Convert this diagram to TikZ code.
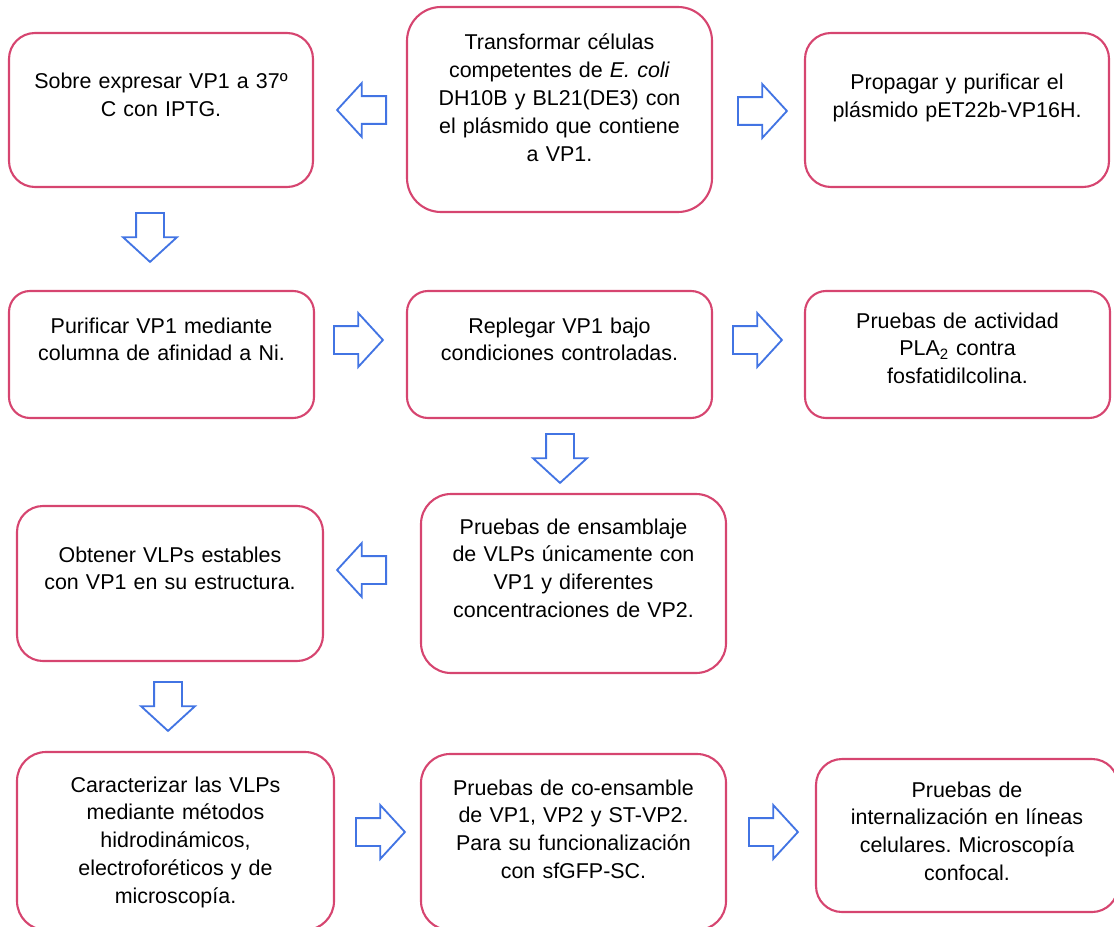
\documentclass[tikz,border=0pt]{standalone}
\usepackage{fontspec}
\setmainfont{Liberation Sans}
\frenchspacing
\usetikzlibrary{fit,shapes.arrows}

\definecolor{rosa}{RGB}{214,69,112}
\definecolor{azul}{RGB}{66,116,227}

\begin{document}
\begin{tikzpicture}[x=0.02cm,y=-0.02cm,
  caja/.style={draw=rosa, line width=1.2pt, inner sep=0pt},
  texto/.style={anchor=base, inner sep=0pt, text width=5.6cm, align=center,
    font=\fontsize{12.2}{15.9}\selectfont},
  flecha/.style={single arrow, draw=azul, line width=1.05pt, anchor=tail,
    inner sep=0.26cm, minimum height=0.98cm,
    single arrow head extend=0.26cm, single arrow tip angle=95}]
  \useasboundingbox (0,0) rectangle (1114,926);

  \node [caja, rounded corners=0.52cm, fit={(9,33) (313,187)}]    (sobre) {};
  \node [caja, rounded corners=0.68cm, fit={(407,7) (712,212)}]   (transformar) {};
  \node [caja, rounded corners=0.52cm, fit={(805,33) (1109,187)}] (propagar) {};
  \node [caja, rounded corners=0.42cm, fit={(9,291) (314,418)}]   (purificar) {};
  \node [caja, rounded corners=0.42cm, fit={(407,291) (712,418)}] (replegar) {};
  \node [caja, rounded corners=0.42cm, fit={(805,291) (1110,418)}] (actividad) {};
  \node [caja, rounded corners=0.6cm, fit={(421,494) (726,673)}]  (ensamblaje) {};
  \node [caja, rounded corners=0.52cm, fit={(17,506) (323,661)}]  (obtener) {};
  \node [caja, rounded corners=0.58cm, fit={(17,752) (334,930)}]  (caracterizar) {};
  \node [caja, rounded corners=0.58cm, fit={(421,754) (726,930)}] (coensamble) {};
  \node [caja, rounded corners=0.52cm, fit={(816,759) (1118,912)}] (internalizacion) {};

  \node [texto] (t-sobre) at (sobre.center |- 0,89)
    {Sobre expresar VP1 a 37º\\C con IPTG.};
  \node [texto] (t-transformar) at (transformar.center |- 0,50)
    {Transformar células\\competentes de \textit{E. coli}\\DH10B y BL21(DE3) con\\el plásmido que contiene\\a VP1.};
  \node [texto] (t-propagar) at (propagar.center |- 0,90)
    {Propagar y purificar el\\plásmido pET22b-VP16H.};
  \node [texto] (t-purificar) at (purificar.center |- 0,333)
    {Purificar VP1 mediante\\columna de afinidad a Ni.};
  \node [texto] (t-replegar) at (replegar.center |- 0,333)
    {Replegar VP1 bajo\\condiciones controladas.};
  \node [texto] (t-actividad) at (actividad.center |- 0,328)
    {Pruebas de actividad\\PLA\textsubscript{2} contra\\fosfatidilcolina.};
  \node [texto] (t-ensamblaje) at (ensamblaje.center |- 0,534)
    {Pruebas de ensamblaje\\de VLPs únicamente con\\VP1 y diferentes\\concentraciones de VP2.};
  \node [texto] (t-obtener) at (obtener.center |- 0,562)
    {Obtener VLPs estables\\con VP1 en su estructura.};
  \node [texto] (t-caracterizar) at (caracterizar.center |- 0,792)
    {Caracterizar las VLPs\\mediante métodos\\hidrodinámicos,\\electroforéticos y de\\microscopía.};
  \node [texto] (t-coensamble) at (coensamble.center |- 0,795)
    {Pruebas de co-ensamble\\de VP1, VP2 y ST-VP2.\\Para su funcionalización\\con sfGFP-SC.};
  \node [texto] (t-internalizacion) at (internalizacion.center |- 0,797)
    {Pruebas de\\internalización en líneas\\celulares. Microscopía\\confocal.};

  \node [flecha, shape border rotate=180] (f1)  at (387,110) {};
  \node [flecha]                          (f2)  at (737,111) {};
  \node [flecha, shape border rotate=270] (f3)  at (150,212) {};
  \node [flecha]                          (f4)  at (333,340) {};
  \node [flecha]                          (f5)  at (732,340) {};
  \node [flecha, shape border rotate=270] (f6)  at (560,433) {};
  \node [flecha, shape border rotate=180] (f7)  at (387,570) {};
  \node [flecha, shape border rotate=270] (f8)  at (168,681) {};
  \node [flecha]                          (f9)  at (355,832) {};
  \node [flecha]                          (f10) at (748,832) {};

\end{tikzpicture}
\end{document}
